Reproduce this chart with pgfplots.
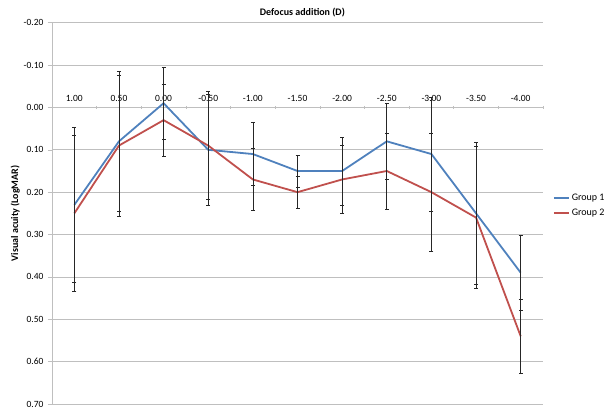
\documentclass[border=0pt]{standalone}
\usepackage{fontspec}
\setmainfont{Carlito}
\usepackage{pgfplots}
\pgfplotsset{compat=1.18}
\usepackage{pgfplotstable}
\definecolor{gA}{RGB}{79,129,189}
\definecolor{gB}{RGB}{192,80,77}
\definecolor{gridc}{RGB}{191,191,191}
\pgfplotstableread{
x y e
0 0.23 0.183
1 0.08 0.165
2 -0.01 0.085
3 0.10 0.13
4 0.11 0.075
5 0.15 0.038
6 0.15 0.08
7 0.08 0.09
8 0.11 0.135
9 0.25 0.167
10 0.39 0.088
}\groupone
\pgfplotstableread{
x y e
0 0.25 0.183
1 0.09 0.166
2 0.03 0.085
3 0.09 0.127
4 0.17 0.073
5 0.20 0.037
6 0.17 0.08
7 0.15 0.09
8 0.20 0.14
9 0.26 0.167
10 0.54 0.088
}\grouptwo
\begin{document}
\begin{tikzpicture}
\useasboundingbox (0,0) rectangle (608pt,408pt);
\begin{axis}[
  at={(52pt,4pt)}, anchor=south west,
  scale only axis, width=491pt, height=381.3pt,
  font=\fontsize{9.5}{11}\selectfont,
  /pgf/number format/assume math mode=true,
  y dir=reverse,
  ymin=-0.2, ymax=0.7,
  ytick={-0.2,-0.1,0,0.1,0.2,0.3,0.4,0.5,0.6,0.7},
  yticklabel style={/pgf/number format/fixed, /pgf/number format/fixed zerofill, /pgf/number format/precision=2},
  xmin=-0.5, xmax=10.5,
  xtick={0,...,10},
  xticklabels={1.00,0.50,0.00,-0.50,-1.00,-1.50,-2.00,-2.50,-3.00,-3.50,-4.00},
  minor xtick={-0.5,0.5,...,10.5},
  axis x line=middle,
  axis y line=left,
  axis line style={-, gridc, line width=0.8pt},
  major x tick style={draw=none},
  minor x tick style={gridc, line width=0.6pt},
  minor tick length=3pt,
  y tick style={gridc, line width=0.6pt},
  major tick length=4pt,
  ytick align=outside,
  ymajorgrids, grid style={gridc, line width=0.8pt},
  xticklabel style={anchor=south, yshift=4pt},
  yticklabel style={xshift=-1pt},
  ylabel={\bfseries Visual acuity (LogMAR)},
  ylabel style={at={(axis description cs:-0.075,0.5)}, anchor=center, font=\fontsize{10}{12}\selectfont},
  legend style={at={(axis description cs:1.02,0.52)}, anchor=west, draw=none, fill=none, font=\fontsize{10}{12}\selectfont, row sep=3pt, inner sep=0pt},
  legend cell align=left,
  legend image code/.code={\draw[#1] (0pt,0pt) -- (15pt,0pt);},
  clip=false,
]
\addplot[gA, line width=1.8pt, mark=none,
  error bars/.cd, y dir=both, y explicit,
  error bar style={black!85, line width=0.7pt, solid},
  error mark options={rotate=90, mark size=2pt, black!85, line width=0.7pt}]
  table[x=x, y=y, y error=e]{\groupone};
\addlegendentry{Group 1}
\addplot[gB, line width=1.8pt, mark=none,
  error bars/.cd, y dir=both, y explicit,
  error bar style={black!85, line width=0.7pt, solid},
  error mark options={rotate=90, mark size=2pt, black!85, line width=0.7pt}]
  table[x=x, y=y, y error=e]{\grouptwo};
\addlegendentry{Group 2}
\node[font=\fontsize{10}{12}\selectfont\bfseries, anchor=center] at (axis description cs:0.51,1.026) {Defocus addition (D)};
\end{axis}
\end{tikzpicture}
\end{document}
